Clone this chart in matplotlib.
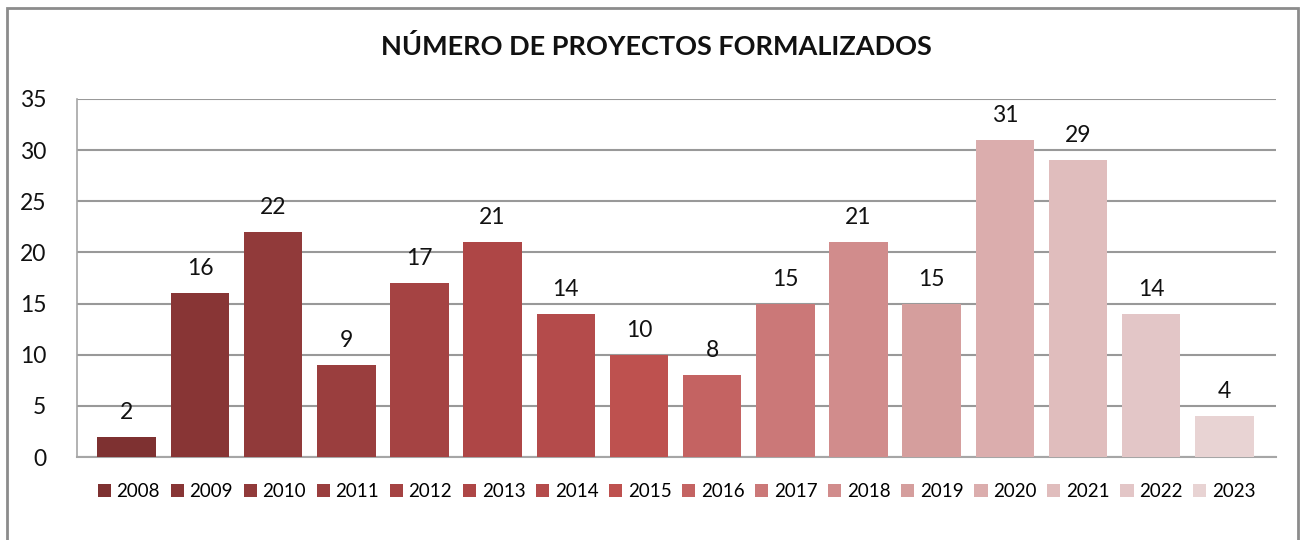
import matplotlib.pyplot as plt
from matplotlib.patches import Rectangle

plt.rcParams['font.family'] = ['Lato', 'DejaVu Sans']

years = ['2008', '2009', '2010', '2011', '2012', '2013', '2014', '2015',
         '2016', '2017', '2018', '2019', '2020', '2021', '2022', '2023']
proyectos = [2, 16, 22, 9, 17, 21, 14, 10, 8, 15, 21, 15, 31, 29, 14, 4]
colores = ['#7E3131', '#883535', '#913A3A', '#9A3E3E', '#A54343', '#AE4646',
           '#B44B4B', '#BE514F', '#C46362', '#CB7878', '#D18C8C', '#D59E9D',
           '#DBADAD', '#E0BDBD', '#E3C6C7', '#E8D3D3']

fig = plt.figure(figsize=(13.05, 5.4), dpi=100)
ax = fig.add_axes([0.059, 0.1537, 0.919, 0.663])

# outer chart frame
fig.patches.append(Rectangle((7 / 1305, -0.1), 1291 / 1305, 1.1 - 8 / 540,
                             transform=fig.transFigure, fill=False,
                             edgecolor='#8c8c8c', lw=2))

for i, (yr, val, col) in enumerate(zip(years, proyectos, colores)):
    ax.bar(i, val, width=0.8, color=col, label=yr, zorder=3)
    ax.annotate(str(val), (i, val), xytext=(0, 10), textcoords='offset points',
                ha='center', va='bottom', fontsize=16.5, color='#111111')

ax.set_xlim(-0.68, len(years) - 1 + 0.71)
ax.set_ylim(0, 35)
ax.set_yticks(range(0, 36, 5))
ax.set_xticks([])
ax.tick_params(axis='y', length=0, labelsize=16.5, pad=22, labelcolor='#111111')
ax.grid(axis='y', color='#999999', lw=1.5, zorder=0)
for s in ['top', 'right']:
    ax.spines[s].set_visible(False)
ax.spines['left'].set_color('#a6a6a6')
ax.spines['bottom'].set_color('#a6a6a6')
ax.spines['left'].set_linewidth(1.2)
ax.spines['bottom'].set_linewidth(1.5)

fig.text(0.503, 0.913, 'NÚMERO DE PROYECTOS FORMALIZADOS', ha='center',
         va='center', fontsize=19.5, fontweight='bold', color='#111111')

ax.legend(loc='upper center', bbox_to_anchor=(0.5, -0.025), ncol=16,
          frameon=False, fontsize=13.5, handlelength=0.7, handleheight=0.7,
          handletextpad=0.3, columnspacing=0.57)

plt.savefig('out.png', dpi=100)
